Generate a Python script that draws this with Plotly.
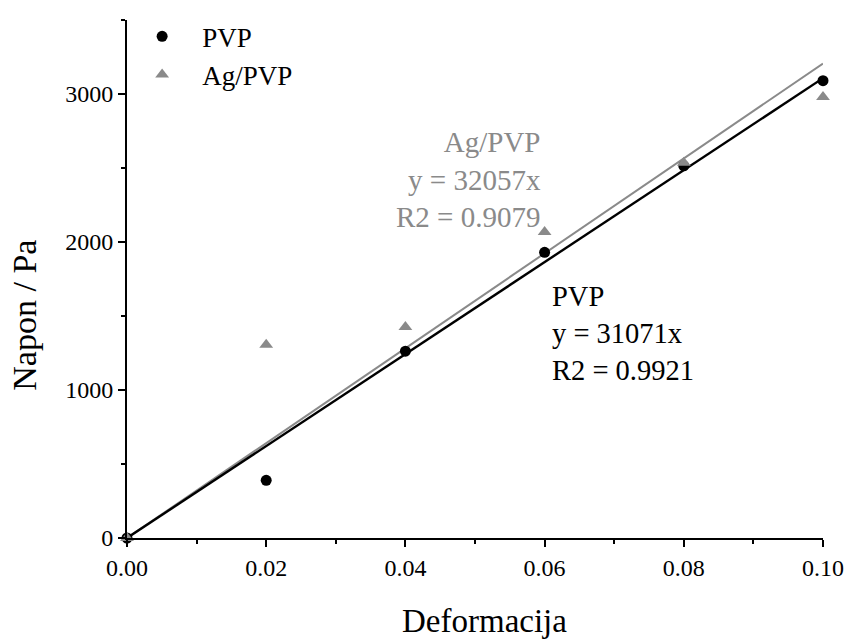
import plotly.graph_objects as go

strain = [0.00, 0.02, 0.04, 0.06, 0.08, 0.10]
stress_pvp = [0, 390, 1262, 1930, 2515, 3090]
stress_agpvp = [0, 1305, 1425, 2068, 2535, 2980]

slope_pvp = 31071
slope_agpvp = 32057
r2_pvp = 0.9921
r2_agpvp = 0.9079

fit_x = [0.0, 0.10]

FONT = "Liberation Serif, Times New Roman, serif"
GRAY = "#8a8a8a"

fig = go.Figure()

fig.add_trace(go.Scatter(
    x=fit_x, y=[slope_agpvp * v for v in fit_x], mode="lines",
    line=dict(color=GRAY, width=2), showlegend=False, hoverinfo="skip"))
fig.add_trace(go.Scatter(
    x=fit_x, y=[slope_pvp * v for v in fit_x], mode="lines",
    line=dict(color="black", width=2.4), showlegend=False, hoverinfo="skip"))

fig.add_trace(go.Scatter(
    x=strain, y=stress_pvp, mode="markers", name="PVP",
    marker=dict(symbol="circle", size=11, color="black"), cliponaxis=False))
fig.add_trace(go.Scatter(
    x=strain, y=stress_agpvp, mode="markers", name="Ag/PVP",
    marker=dict(symbol="triangle-up", size=12, color=GRAY), cliponaxis=False))

# fit equations
fig.add_annotation(
    x=0.0597, y=2420, xref="x", yref="y", xanchor="right", yanchor="middle",
    align="right", showarrow=False,
    text=f"Ag/PVP<br>y = {slope_agpvp}x<br>R2 = {r2_agpvp}",
    font=dict(family=FONT, size=29, color=GRAY))
fig.add_annotation(
    x=0.0608, y=1380, xref="x", yref="y", xanchor="left", yanchor="middle",
    align="left", showarrow=False,
    text=f"PVP<br>y = {slope_pvp}x<br>R2 = {r2_pvp}",
    font=dict(family=FONT, size=28.5, color="black"))

# axis titles
fig.add_annotation(
    x=0.513, y=-0.161, xref="paper", yref="paper", xanchor="center",
    yanchor="middle", showarrow=False, text="Deformacija",
    font=dict(family=FONT, size=33, color="black"))
fig.add_annotation(
    x=-0.1466, y=0.431, xref="paper", yref="paper", xanchor="center",
    yanchor="middle", showarrow=False, text="Napon / Pa", textangle=-90,
    font=dict(family=FONT, size=34, color="black"))

axis_common = dict(
    showgrid=False, zeroline=False, showline=True, linecolor="black",
    linewidth=2, ticks="outside", ticklen=7, tickwidth=2, tickcolor="black",
    tickfont=dict(family=FONT, size=24, color="black"), automargin=False,
    minor=dict(ticks="outside", ticklen=4, tickwidth=2, tickcolor="black"))

fig.update_xaxes(
    range=[0, 0.10], tickvals=[0, 0.02, 0.04, 0.06, 0.08, 0.10],
    tickformat=".2f", minor_dtick=0.01, minor_tick0=0, **axis_common)
fig.update_yaxes(
    range=[0, 3500], tickvals=[0, 1000, 2000, 3000],
    minor_dtick=500, minor_tick0=0, **axis_common)

fig.update_layout(
    width=846, height=641,
    margin=dict(l=127, r=23, t=16, b=103),
    paper_bgcolor="white", plot_bgcolor="white",
    legend=dict(x=-0.007, y=1.015, xanchor="left", yanchor="top",
                font=dict(family=FONT, size=27, color="black"),
                bgcolor="rgba(0,0,0,0)", itemwidth=70, tracegroupgap=0),
)

fig.write_html("out.html")
